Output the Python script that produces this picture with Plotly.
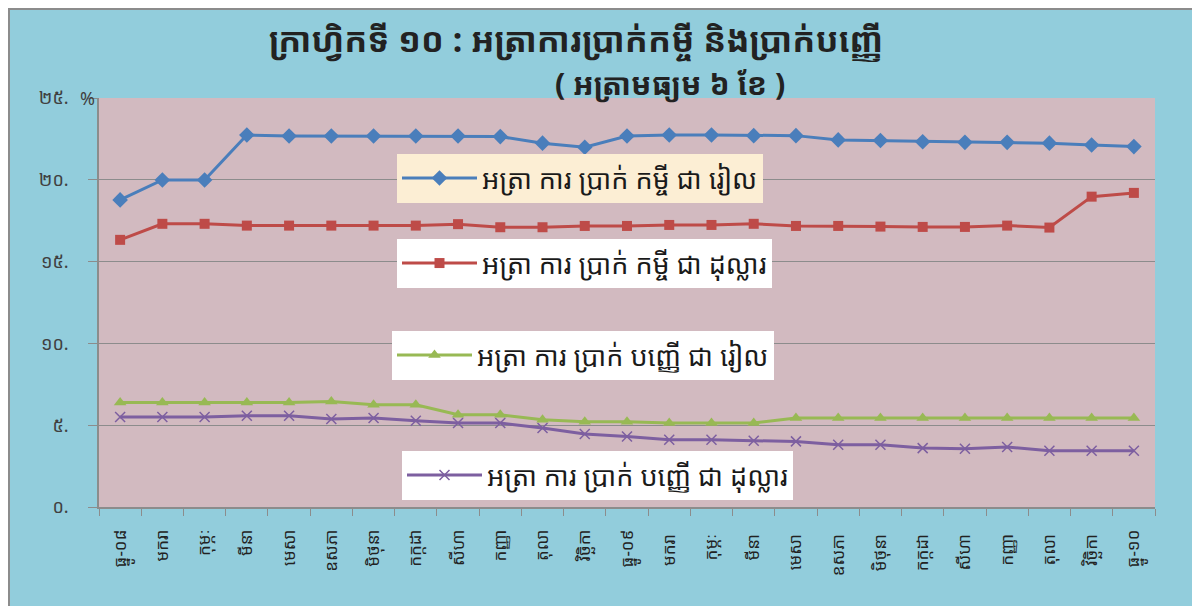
import plotly.graph_objects as go

# ---- data ----
months = ["ធ្នូ-០៨", "មករា", "កុម្ភៈ", "មីនា", "មេសា", "ឧសភា", "មិថុនា", "កក្កដា",
          "សីហា", "កញ្ញា", "តុលា", "វិច្ឆិកា", "ធ្នូ-០៩", "មករា ", "កុម្ភៈ ", "មីនា ",
          "មេសា ", "ឧសភា ", "មិថុនា ", "កក្កដា ", "សីហា ", "កញ្ញា ", "តុលា ",
          "វិច្ឆិកា ", "ធ្នូ-១០"]

loan_khr = [18.77, 19.99, 19.99, 22.74, 22.68, 22.68, 22.68, 22.68, 22.68, 22.64,
            22.24, 21.99, 22.68, 22.74, 22.74, 22.70, 22.70, 22.44, 22.40, 22.33,
            22.29, 22.29, 22.24, 22.13, 22.03]
loan_usd = [16.33, 17.31, 17.31, 17.20, 17.20, 17.20, 17.20, 17.20, 17.29, 17.10,
            17.10, 17.18, 17.18, 17.24, 17.24, 17.31, 17.18, 17.18, 17.14, 17.12,
            17.12, 17.20, 17.08, 18.97, 19.20]
dep_khr = [6.39, 6.39, 6.39, 6.39, 6.39, 6.45, 6.25, 6.25, 5.64, 5.64,
           5.33, 5.21, 5.21, 5.13, 5.13, 5.13, 5.44, 5.44, 5.44, 5.44,
           5.44, 5.44, 5.44, 5.44, 5.44]
dep_usd = [5.50, 5.50, 5.50, 5.58, 5.58, 5.38, 5.44, 5.27, 5.13, 5.13,
           4.83, 4.46, 4.31, 4.11, 4.11, 4.05, 4.01, 3.81, 3.81, 3.60,
           3.56, 3.67, 3.44, 3.44, 3.44]

series_names = ["អត្រា ការ ប្រាក់ កម្ចី ជា រៀល", "អត្រា ការ ប្រាក់ កម្ចី ជា ដុល្លារ",
                "អត្រា ការ ប្រាក់ បញ្ញើ ជា រៀល", "អត្រា ការ ប្រាក់ បញ្ញើ ជា ដុល្លារ"]
y_ticks = [0, 5, 10, 15, 20, 25]
y_ticktext = ["០.", "៥.", "១០.", "១៥.", "២០.", "២៥."]

title_text = "ក្រាហ្វិកទី ១០ : អត្រាការប្រាក់កម្ចី និងប្រាក់បញ្ញើ"
subtitle_text = "( អត្រាមធ្យម ៦ ខែ )"

# ---- style ----
KFONT = "Noto Sans Khmer, Khmer OS, Noto Sans, DejaVu Sans, sans-serif"
colors = ["#4A7EBB", "#BE4B48", "#98B954", "#7D5FA0"]
symbols = ["diamond", "square", "triangle-up", "x-thin"]
msizes = [12, 10, 11, 10]
legends = ["legend", "legend2", "legend3", "legend4"]

fig = go.Figure()
for vals, name, c, s, ms, lg in zip([loan_khr, loan_usd, dep_khr, dep_usd],
                                    series_names, colors, symbols, msizes, legends):
    marker = dict(symbol=s, size=ms, color=c)
    if s == "x-thin":
        marker["line"] = dict(color=c, width=1.5)
    fig.add_trace(go.Scatter(x=months, y=vals, name=name, mode="lines+markers",
                             line=dict(color=c, width=3), marker=marker, legend=lg))

# page body has an 8px margin: figure is drawn at (8, 8)
OFF = 8
W, H = 1200 - OFF, 606 - OFF
L, R, T, B = 99 - OFF, 45, 98 - OFF, 99
pw, ph = W - L - R, H - T - B


def px(x):  # screen x -> paper x
    return (x - OFF - L) / pw


def py(y):  # screen y -> paper y
    return (H - B - (y - OFF)) / ph


leg_common = dict(font=dict(family=KFONT, size=27, color="#1a1a1a"),
                  xanchor="left", yanchor="top", borderwidth=0,
                  itemwidth=75)
fig.update_layout(
    width=W, height=H,
    margin=dict(l=L, r=R, t=T, b=B),
    paper_bgcolor="#92CDDC",
    plot_bgcolor="#D2BAC0",
    showlegend=True,
    legend=dict(x=px(397), y=py(154), bgcolor="#FCEED4", **leg_common),
    legend2=dict(x=px(397), y=py(239), bgcolor="#FFFFFF", **leg_common),
    legend3=dict(x=px(392), y=py(331), bgcolor="#FFFFFF", **leg_common),
    legend4=dict(x=px(402), y=py(451), bgcolor="#FFFFFF", **leg_common),
    xaxis=dict(
        type="category", tickson="boundaries", ticks="outside", ticklen=7,
        tickcolor="#8C8C8C", tickangle=-90, showgrid=False,
        showline=True, linecolor="#8C8C8C", linewidth=1.5,
        tickfont=dict(family=KFONT, size=17, color="#222222"),
        ticklabelstandoff=14, range=[-0.5, len(months) - 0.5],
    ),
    yaxis=dict(
        range=[0, 25], tickvals=y_ticks, ticktext=y_ticktext,
        ticks="outside", ticklen=9, tickcolor="#8C8C8C",
        showgrid=True, gridcolor="#8C8C8C", gridwidth=1,
        showline=True, linecolor="#8C8C8C", linewidth=1.5, zeroline=False,
        tickfont=dict(family=KFONT, size=18, color="#404040"),
        ticklabelstandoff=16,
    ),
    annotations=[
        dict(text="<b>" + title_text + "</b>", xref="paper", yref="paper",
             x=px(576), y=py(40), xanchor="center", yanchor="middle",
             showarrow=False, font=dict(family=KFONT, size=34, color="#222222")),
        dict(text="<b>" + subtitle_text + "</b>", xref="paper", yref="paper",
             x=px(670), y=py(83), xanchor="center", yanchor="middle",
             showarrow=False, font=dict(family=KFONT, size=30, color="#222222")),
        dict(text="%", xref="paper", yref="paper", x=px(97), y=1.0,
             xanchor="right", yanchor="middle", showarrow=False,
             font=dict(family=KFONT, size=18, color="#404040")),
    ],
    shapes=[
        dict(type="rect", xref="paper", yref="paper", x0=px(9), x1=px(1198),
             y0=py(640), y1=py(9), fillcolor="rgba(0,0,0,0)",
             line=dict(color="#8C8C8C", width=2), layer="below"),
    ],
)

fig.write_html("out.html")
